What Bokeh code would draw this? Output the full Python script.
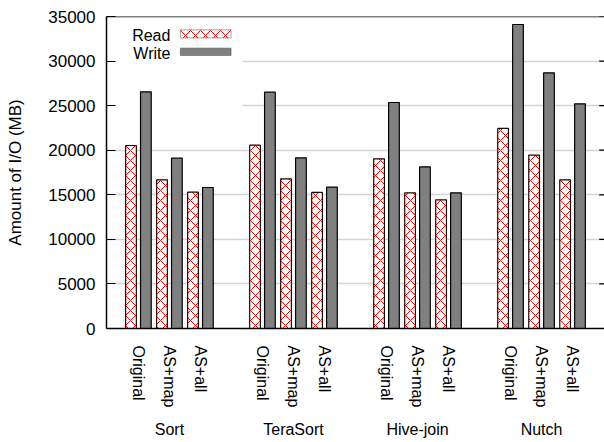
from bokeh.plotting import figure
from bokeh.models import (FactorRange, ColumnDataSource, FixedTicker, Label,
                          BoxAnnotation, Range1d, Span)
from bokeh.transform import dodge
from bokeh.embed import file_html
from bokeh.resources import INLINE

workloads = ["Sort", "TeraSort", "Hive-join", "Nutch"]
configs = ["Original", "AS+map", "AS+all"]
read_mb = [20530, 16680, 15290, 20570, 16790, 15260, 19030, 15220, 14440, 22440, 19450, 16680]
write_mb = [26550, 19110, 15820, 26510, 19150, 15860, 25350, 18140, 15220, 34100, 28680, 25200]
y_ticks = [0, 5000, 10000, 15000, 20000, 25000, 30000, 35000]

FONT = "Liberation Sans"
FS = "17px"
FSX = "16px"
GROUP_PAD = 1.0
RANGE_PAD = 0.53

factors = [(w, c) for w in workloads for c in configs]
src = ColumnDataSource(dict(x=factors, read=read_mb, write=write_mb))

x_range = FactorRange(*factors, group_padding=GROUP_PAD, range_padding=RANGE_PAD,
                      range_padding_units="absolute")
x_end = len(factors) + (len(workloads) - 1) * GROUP_PAD + RANGE_PAD

p = figure(width=604, height=442, x_range=x_range, y_range=Range1d(0, 35000),
           output_backend="svg", toolbar_location=None,
           min_border_left=106, min_border_right=0, min_border_top=16,
           min_border_bottom=114)
p.outline_line_color = None
p.background_fill_color = "white"
p.border_fill_color = "white"

# grid
p.xgrid.grid_line_color = None
p.ygrid.ticker = FixedTicker(ticks=y_ticks)
p.ygrid.grid_line_color = "#d4d4d4"
p.ygrid.grid_line_width = 1.5

# white key backdrop (hides the grid behind the key)
p.add_layout(BoxAnnotation(left=-RANGE_PAD, right=3.85, bottom=23000, top=35000,
                           fill_color="white", fill_alpha=1.0, line_color=None,
                           level="underlay"))

# bars
p.vbar(x=dodge("x", -0.24, range=p.x_range), top="read", width=0.345, source=src,
       fill_color="white", line_color="#200000", line_width=1.2,
       hatch_pattern="diagonal_cross", hatch_color="red", hatch_scale=10,
       hatch_weight=1)
p.vbar(x=dodge("x", 0.24, range=p.x_range), top="write", width=0.345, source=src,
       fill_color="#808080", line_color="black", line_width=1.2)

# mirrored tick marks on the right edge
p.segment(x0=[x_end - 0.17] * len(y_ticks), x1=[x_end] * len(y_ticks),
          y0=y_ticks, y1=y_ticks, line_color="black", line_width=1.2)

# left axis
ya = p.yaxis[0]
ya.ticker = FixedTicker(ticks=y_ticks)
ya.axis_label = "Amount of I/O (MB)"
ya.axis_label_text_font = FONT
ya.axis_label_text_font_size = FS
ya.axis_label_text_font_style = "normal"
ya.axis_label_text_color = "black"
ya.axis_label_standoff = 20
ya.major_label_text_font = FONT
ya.major_label_text_font_size = FS
ya.major_label_text_color = "black"
ya.major_label_standoff = 11
ya.major_tick_in = 9
ya.major_tick_out = 0
ya.major_tick_line_color = "black"
ya.major_tick_line_width = 1.2
ya.minor_tick_line_color = None
ya.axis_line_color = "black"
ya.axis_line_width = 1.5

# bottom axis
xa = p.xaxis[0]
xa.major_label_orientation = "vertical"
xa.major_label_text_font = FONT
xa.major_label_text_font_size = FSX
xa.major_label_text_color = "black"
xa.major_label_standoff = 11
xa.group_text_font = FONT
xa.group_text_font_size = FSX
xa.group_text_font_style = "normal"
xa.group_text_color = "black"
xa.separator_line_color = None
xa.major_tick_line_color = None
xa.minor_tick_line_color = None
xa.axis_line_color = "black"
xa.axis_line_width = 1.5

# top border
p.add_layout(Span(location=35000, dimension="width", line_color="black",
                  line_width=1.5))

# key (gnuplot style: label left, sample right)
p.add_layout(Label(x=1.53, y=32834, text="Read", text_align="right",
                   text_baseline="middle", text_font=FONT, text_font_size="16px",
                   text_color="black"))
p.add_layout(Label(x=1.53, y=30872, text="Write", text_align="right",
                   text_baseline="middle", text_font=FONT, text_font_size="16px",
                   text_color="black"))
p.add_layout(BoxAnnotation(left=1.853, right=3.486, bottom=32611, top=33508,
                           fill_color="white", fill_alpha=1.0,
                           line_color="#200000", line_width=1.2,
                           hatch_pattern="diagonal_cross", hatch_color="red",
                           hatch_scale=10, hatch_weight=1))
p.add_layout(BoxAnnotation(left=1.853, right=3.486, bottom=30625, top=31445,
                           fill_color="#808080", fill_alpha=1.0,
                           line_color="black", line_width=1.2))

open("out.html", "w").write(file_html(p, INLINE))
